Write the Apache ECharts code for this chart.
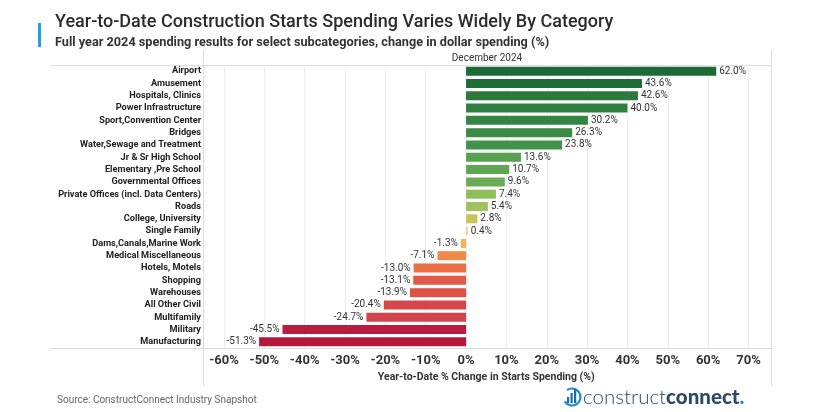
<!DOCTYPE html>
<html>
<head>
<meta charset="utf-8">
<script src="https://cdn.jsdelivr.net/npm/echarts@6/dist/echarts.min.js"></script>
<style>
  html, body { margin: 0; padding: 0; background: #ffffff; }
  #chart { width: 839px; height: 412px; }
</style>
</head>
<body>
<div id="chart"></div>
<script>
// ---- data ----
const categories = [
  'Airport', 'Amusement', 'Hospitals, Clinics', 'Power Infrastructure',
  'Sport,Convention Center', 'Bridges', 'Water,Sewage and Treatment',
  'Jr & Sr High School', 'Elementary ,Pre School', 'Governmental Offices',
  'Private Offices (incl. Data Centers)', 'Roads', 'College, University',
  'Single Family', 'Dams,Canals,Marine Work', 'Medical Miscellaneous',
  'Hotels, Motels', 'Shopping', 'Warehouses', 'All Other Civil',
  'Multifamily', 'Military', 'Manufacturing'
];
const values = [
  62.0, 43.6, 42.6, 40.0, 30.2, 26.3, 23.8, 13.6, 10.7, 9.6, 7.4, 5.4, 2.8,
  0.4, -1.3, -7.1, -13.0, -13.1, -13.9, -20.4, -24.7, -45.5, -51.3
];
const xTickMin = -60;
const xTickMax = 70;
const xTickStep = 10;

const titleText = 'Year-to-Date Construction Starts Spending Varies Widely By Category';
const subtitleText = 'Full year 2024 spending results for select subcategories, change in dollar spending (%)';
const headerText = 'December 2024';
const axisTitle = 'Year-to-Date % Change in Starts Spending (%)';
const sourceText = 'Source: ConstructConnect Industry Snapshot';

// ---- styles ----
const barColors = [
  '#1c6a35', '#1e6c36', '#2a793d', '#2e7e40', '#338543', '#3a8b46', '#42934a',
  '#57a150', '#5fa553', '#6aab55', '#8fbf5b', '#9fc25e', '#c7c45a', '#e3d27e',
  '#f9b152', '#f0894a', '#ec6e45', '#e2594a', '#dd5246', '#d5474a', '#d1444b',
  '#b81c3f', '#b3193c'
];
const FONT = 'Roboto, "Noto Sans", sans-serif';
const TEXT = '#333333';
const FRAME = '#dddddd';

const chart = echarts.init(document.getElementById('chart'), null, { renderer: 'canvas' });

const barData = values.map((v, i) => ({
  value: v,
  itemStyle: { color: barColors[i] },
  label: { position: v < 0 ? 'left' : 'right' }
}));

const option = {
  backgroundColor: '#ffffff',
  animation: false,
  title: [
    {
      text: titleText, left: 50, top: 8,
      textStyle: { fontFamily: FONT, fontSize: 18, fontWeight: 500, color: '#2b2b2b' }
    },
    {
      text: subtitleText, left: 50, top: 31,
      textStyle: { fontFamily: FONT, fontSize: 12.7, fontWeight: 'bold', color: '#333333' }
    }
  ],
  grid: { left: 224, right: 90.5, top: 65, height: 283, containLabel: false },
  xAxis: {
    type: 'value',
    min: xTickMin, max: xTickMax, interval: xTickStep,
    axisLine: { show: false },
    axisTick: { show: false },
    splitLine: { show: true, lineStyle: { color: '#eeeeee', width: 1 } },
    axisLabel: {
      formatter: v => v + '%', fontFamily: FONT, fontSize: 13, fontWeight: 'bold',
      color: TEXT, margin: 6
    },
    name: axisTitle, nameLocation: 'middle', nameGap: 24,
    nameTextStyle: { fontFamily: FONT, fontSize: 10.5, fontWeight: 'bold', color: TEXT }
  },
  yAxis: {
    type: 'category', data: categories, inverse: true,
    axisLine: { show: false }, axisTick: { show: false },
    splitLine: { show: false },
    axisLabel: { interval: 0, fontFamily: FONT, fontSize: 9.2, fontWeight: 'bold', color: '#222222', margin: 23 }
  },
  series: [{
    type: 'bar', data: barData, barWidth: 9,
    label: {
      show: true, distance: 3, fontFamily: FONT, fontSize: 10, color: TEXT,
      formatter: p => p.value.toFixed(1) + '%'
    }
  }],
  graphic: [
    // frame lines
    { type: 'line', shape: { x1: 50, y1: 65.5, x2: 771, y2: 65.5 }, style: { stroke: FRAME, lineWidth: 1 }, silent: true },
    { type: 'line', shape: { x1: 50, y1: 348.5, x2: 771, y2: 348.5 }, style: { stroke: FRAME, lineWidth: 1 }, silent: true },
    { type: 'line', shape: { x1: 203.5, y1: 50, x2: 203.5, y2: 386 }, style: { stroke: FRAME, lineWidth: 1 }, silent: true },
    { type: 'line', shape: { x1: 771.5, y1: 50, x2: 771.5, y2: 386 }, style: { stroke: FRAME, lineWidth: 1 }, silent: true },
    // title accent bar
    { type: 'rect', shape: { x: 38, y: 23, width: 3, height: 24 }, style: { fill: '#1fa3e0' }, silent: true },
    // header
    { type: 'text', x: 487, y: 58, style: { text: headerText, fontFamily: FONT, fontSize: 10, fill: TEXT, align: 'center', verticalAlign: 'middle' }, silent: true },
    // source
    { type: 'text', x: 57, y: 400, style: { text: sourceText, fontFamily: FONT, fontSize: 10, fill: '#666666', align: 'left', verticalAlign: 'middle' }, silent: true },
    // logo icon
    { type: 'arc', shape: { cx: 572, cy: 397, r: 8.5, startAngle: -2.2, endAngle: 2.6 }, style: { stroke: '#1f8fd0', lineWidth: 2.2, fill: null }, silent: true },
    { type: 'rect', shape: { x: 567, y: 397, width: 2.2, height: 6 }, style: { fill: '#1a6fa8' }, silent: true },
    { type: 'rect', shape: { x: 570.5, y: 393, width: 2.2, height: 10 }, style: { fill: '#1a6fa8' }, silent: true },
    { type: 'rect', shape: { x: 574, y: 389, width: 2.2, height: 14 }, style: { fill: '#1a6fa8' }, silent: true },
    // logo text
    {
      type: 'text', x: 583, y: 397,
      style: {
        text: '{a|construct}{b|connect}{c|.}',
        verticalAlign: 'middle', align: 'left',
        rich: {
          a: { fontFamily: 'Lato, "Open Sans", sans-serif', fontSize: 20.5, fontWeight: 300, fill: '#2c4a66' },
          b: { fontFamily: 'Lato, "Open Sans", sans-serif', fontSize: 20.5, fontWeight: 900, fill: '#2c4a66' },
          c: { fontFamily: 'Lato, "Open Sans", sans-serif', fontSize: 20.5, fontWeight: 900, fill: '#1f8fd0' }
        }
      },
      silent: true
    }
  ]
};
chart.setOption(option);
</script>
</body>
</html>
